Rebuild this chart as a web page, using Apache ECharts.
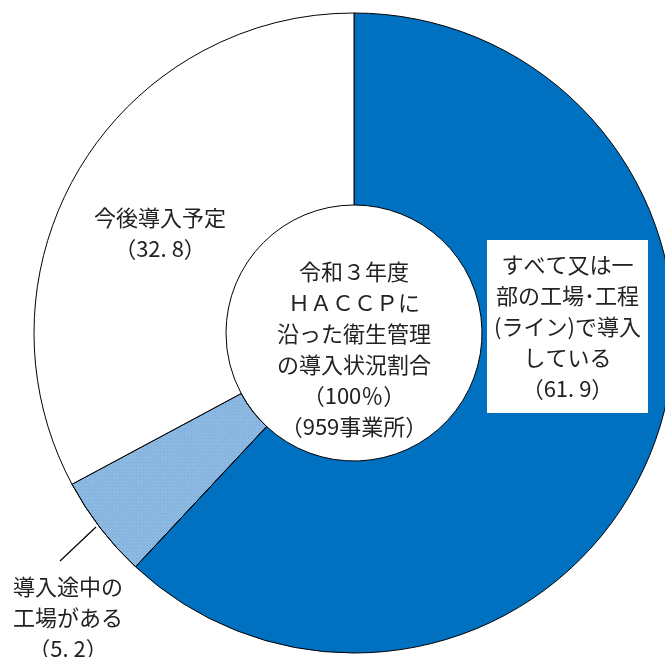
<!DOCTYPE html>
<html>
<head>
<meta charset="utf-8">
<script src="https://cdn.jsdelivr.net/npm/echarts@6/dist/echarts.min.js"></script>
<style>
html,body{margin:0;padding:0;background:#fff;}
#c{width:665px;height:657px;}
</style>
</head>
<body>
<div id="c"></div>
<script>
var categories = ['すべて又は一\n部の工場･工程\n(ライン)で導入\nしている', '導入途中の\n工場がある', '今後導入予定'];
var values = [61.9, 5.2, 32.8];
var centerLines = ['令和３年度', 'ＨＡＣＣＰに', '沿った衛生管理', 'の導入状況割合', '（100％）', '（959事業所）'];

var FONT = '"Noto Sans CJK JP", sans-serif';
var colors = ['#0070C0', '#80B1DE', '#FFFFFF'];
var labelPos = [[567.5, 326.5], [68, 618], [160, 233]];

var chart = echarts.init(document.getElementById('c'), null, {renderer: 'canvas'});

var data = categories.map(function (name, i) {
  var item = {
    name: name,
    value: values[i],
    itemStyle: {color: colors[i]}
  };
  if (i === 0) {
    item.label = {
      backgroundColor: '#fff',
      width: 161,
      overflow: 'none',
      padding: [9, 0, 9, 0]
    };
  }
  if (i === 1) {
    item.itemStyle.decal = {
      symbol: 'rect',
      symbolSize: 1,
      dashArrayX: [1, 1],
      dashArrayY: [1, 1],
      rotation: Math.PI / 4,
      color: 'rgba(255,255,255,0.3)'
    };
    item.labelLine = {show: true, lineStyle: {color: '#000', width: 1.2}};
  }
  return item;
});

chart.setOption({
  animation: false,
  series: [{
    type: 'pie',
    center: [354, 333],
    radius: [128, 320],
    startAngle: 90,
    clockwise: true,
    avoidLabelOverlap: false,
    itemStyle: {borderColor: '#000', borderWidth: 1},
    emphasis: {disabled: true},
    label: {
      show: true,
      position: 'outside',
      formatter: function (p) { return p.name + '\n（' + p.value.toFixed(1).replace('.', '. ') + '）'; },
      fontFamily: FONT,
      fontSize: 22,
      lineHeight: 31,
      color: '#222',
      align: 'center'
    },
    labelLine: {show: false},
    labelLayout: function (params) {
      var i = params.dataIndex;
      var res = {x: labelPos[i][0], y: labelPos[i][1], align: 'center', verticalAlign: 'middle'};
      if (i === 1) {
        res.labelLinePoints = [[96, 527], [60, 561], [60, 561]];
      }
      return res;
    },
    data: data
  }],
  graphic: [{
    type: 'text',
    x: 354,
    y: 349,
    style: {
      text: centerLines.join('\n'),
      fontFamily: FONT,
      fontSize: 22,
      lineHeight: 31,
      fill: '#222',
      align: 'center',
      verticalAlign: 'middle'
    }
  }]
});
</script>
</body>
</html>
